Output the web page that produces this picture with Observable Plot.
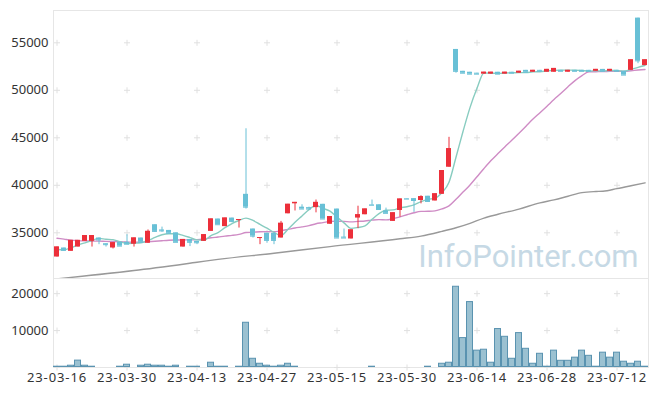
<!DOCTYPE html>
<html>
<head>
<meta charset="utf-8">
<script src="https://cdn.jsdelivr.net/npm/d3@7"></script>
<script src="https://cdn.jsdelivr.net/npm/@observablehq/plot@0.6"></script>
<style>
  body { margin: 0; background: #fff; }
  #wrap { position: relative; width: 657px; height: 396px; }
  #wrap svg { position: absolute; left: 0; }
  #vol [aria-label="x-axis tick label"] { letter-spacing: 0.9px; }
</style>
</head>
<body>
<div id="wrap"></div>
<script>
const dates = ["23-03-16","23-03-17","23-03-20","23-03-21","23-03-22","23-03-23","23-03-24","23-03-27","23-03-28","23-03-29","23-03-30","23-03-31",
"23-04-03","23-04-04","23-04-05","23-04-06","23-04-07","23-04-10","23-04-11","23-04-12","23-04-13","23-04-14","23-04-17","23-04-18","23-04-19","23-04-20","23-04-21","23-04-24","23-04-25","23-04-26","23-04-27","23-04-28",
"23-05-02","23-05-03","23-05-04","23-05-08","23-05-09","23-05-10","23-05-11","23-05-12","23-05-15","23-05-16","23-05-17","23-05-18","23-05-19","23-05-22","23-05-23","23-05-24","23-05-25","23-05-26","23-05-30","23-05-31",
"23-06-01","23-06-02","23-06-05","23-06-07","23-06-08","23-06-09","23-06-12","23-06-13","23-06-14","23-06-15","23-06-16","23-06-19","23-06-20","23-06-21","23-06-22","23-06-23","23-06-26","23-06-27","23-06-28","23-06-29","23-06-30",
"23-07-03","23-07-04","23-07-05","23-07-06","23-07-07","23-07-10","23-07-11","23-07-12","23-07-13","23-07-14","23-07-17","23-07-18"];

const open = [32450,33400,33050,33500,34100,34100,34450,33850,33400,34000,34000,33800,
34450,33900,35850,35300,35250,35000,33500,34300,34100,34100,35150,36450,35650,36550,36300,39050,35400,34450,34950,34950,
34450,37000,38050,37700,37650,37650,38000,35900,37500,34550,34350,36550,36900,37950,37950,37300,36200,37350,38600,38600,
38400,38850,38350,39050,41900,54300,52000,51900,51800,51700,51700,51900,51700,51900,51800,52100,51900,52100,51900,51900,52100,
51900,52100,52100,52100,52000,52200,52000,52100,52000,52100,57600,52600];
const high = [33500,33400,34200,34200,34700,34700,34450,33850,33950,34000,34800,34450,
34450,35300,35850,35600,35250,35000,34300,34300,34100,34800,36450,36450,36550,36550,36400,45950,35400,34500,34950,34950,
36200,38000,38200,37950,37700,38450,38000,36700,37500,35400,35300,37800,37500,38450,37950,37600,37100,38550,38600,38600,
38900,38850,39100,41550,45050,54300,52000,51900,51800,51900,51900,51900,51900,51900,52000,52100,52100,52100,52200,52300,52100,
52100,52100,52100,52100,52200,52200,52200,52100,52000,53200,57600,53200];
const low = [32450,33100,33050,33500,34100,33500,33750,33500,33300,33600,33800,33500,
34000,33900,35050,35050,34950,34000,33500,33550,33750,34100,35150,35850,35650,36050,35500,37500,34450,33750,33900,33750,
34450,37000,37300,37500,37500,37100,36450,35900,34450,34450,34350,35450,36900,37900,37450,37050,36200,36650,38550,37150,
38050,38200,38350,39050,41900,51800,51800,51700,51700,51700,51700,51700,51700,51800,51800,51900,51900,52000,51900,51900,52000,
51900,52000,52000,52000,52000,52000,52000,52000,51600,52100,52800,52600];
const close = [33500,33150,34200,34200,34700,34700,34250,33750,33950,33600,33800,34450,
34000,35150,35150,35200,34950,34000,34300,34000,33950,34800,36450,35850,36550,36200,36400,37700,34650,34500,34200,34200,
36000,38000,38200,37500,37500,38200,36450,36700,34450,34450,35300,36900,37500,37900,37450,37050,37100,38550,38550,38400,
38800,38300,39100,41550,43850,52000,51800,51700,51700,51900,51900,51700,51900,51800,52000,51900,52100,52000,52200,52300,52000,
52100,52000,52000,52000,52200,52000,52200,52000,51600,53200,53100,53200];
const volume = [350,350,620,2000,620,350,0,0,0,350,890,0,
620,890,620,620,350,620,0,350,350,0,1430,350,350,0,350,12250,2500,1150,620,350,
620,1150,350,0,0,0,0,0,0,0,0,0,0,350,0,0,0,0,0,0,
0,350,0,1150,1430,22000,8100,17850,4700,4950,1430,10550,8450,2500,9450,5200,1150,3850,350,4700,1950,
1950,2800,4700,3300,350,4150,2800,4150,1700,1150,1700,350];

const ma5 = [33240,33210,33420,33730,33944,34190,34413,34329,34280,34055,33873,33908,33957,34196,34511,34792,34897,34897,34729,34497,
34252,34217,34708,35024,35536,35978,36297,36543,36297,35882,35482,35044,34707,35373,36111,36778,37445,37880,37571,37276,
36659,36041,35466,35561,35722,36417,37021,37372,37410,37621,37747,37936,38287,38526,38631,39234,40322,42958,45659,48179,
50208,51820,51800,51780,51820,51840,51860,51860,51940,51960,52040,52100,52120,52120,52120,52080,52020,52060,52040,52080,
52080,52000,52200,52420,52620];
const ma20 = [34430,34330,34230,34180,34150,34130,34120,34100,34080,34060,34030,34010,34020,34060,34110,34170,34220,34240,34250,34252,
34277,34359,34473,34557,34650,34724,34830,35026,35061,35107,35126,35114,35214,35356,35507,35622,35751,35959,36066,36201,
36224,36207,36149,36201,36248,36334,36388,36356,36479,36683,36900,37111,37251,37267,37313,37514,37830,38521,39289,40038,
40902,41775,42604,43344,44063,44757,45485,46226,46976,47648,48331,49026,49685,50375,51020,51542,51950,51960,51970,51995,
52010,51995,52060,52130,52195];
const ma60Dates = ["23-03-16","23-03-31","23-04-13","23-04-18","23-04-28","23-05-12","23-05-26","23-06-01","23-06-07","23-06-09","23-06-13","23-06-15","23-06-19","23-06-22","23-06-27","23-06-29","23-07-03","23-07-05","23-07-07","23-07-10","23-07-12","23-07-14","23-07-18"];
const ma60 = [30150,31030,31900,32200,32850,33550,34370,34650,35150,35530,36000,36550,36950,37500,38150,38470,38850,39230,39350,39380,39650,39950,40260];

const priceTicks = [35000,40000,45000,50000,55000];
const volTicks = [10000,20000];
const dateTicks = ["23-03-16","23-03-30","23-04-13","23-04-27","23-05-15","23-05-30","23-06-14","23-06-28","23-07-12"];
const watermark = "InfoPointer.com";

const RED = "#ec2f3a", BLUE = "#68c0d6";

const candles = dates.map((d, i) => ({date: d, open: open[i], high: high[i], low: low[i], close: close[i], vol: volume[i], ma5: ma5[i], ma20: ma20[i]}));
const up = candles.filter(d => d.close >= d.open);
const down = candles.filter(d => d.close < d.open);
const ma60Data = ma60Dates.map((d, i) => ({date: d, v: ma60[i]}));
const gridTop = d3.cross(dateTicks, priceTicks);
const gridVol = d3.cross(dateTicks, [0, ...volTicks]);

const style = {fontFamily: "'Noto Sans', sans-serif", fontSize: "13px", color: "#333", background: "none", overflow: "visible"};
const xScale = {type: "band", domain: dates, padding: 0, label: null};
const fmt = d => String(d);

const topChart = Plot.plot({
  width: 657, height: 280, marginTop: 10, marginBottom: 2, marginLeft: 53, marginRight: 9,
  style,
  x: {...xScale, axis: null},
  y: {domain: [30190, 58400], axis: null, label: null},
  marks: [
    Plot.frame({stroke: "#e6e6e6"}),
    Plot.dot(gridTop, {x: d => d[0], y: d => d[1], symbol: "plus", r: 2.1, stroke: "#e0e0e0", strokeWidth: 1}),
    Plot.axisY({ticks: priceTicks, tickSize: 0, tickPadding: 5, fontSize: 13, tickFormat: fmt, label: null}),
    Plot.text([watermark], {text: d => d, frameAnchor: "bottom-right", textAnchor: "end", lineAnchor: "bottom", dx: -10, dy: -11.3, fontSize: 31, fontFamily: "Roboto", fill: "#c6d9e5"}),
    Plot.line(ma60Data, {x: "date", y: "v", stroke: "#999", strokeWidth: 1.4, curve: "monotone-x", clip: true}),
    Plot.line(candles, {x: "date", y: "ma20", stroke: "#cf8cc5", strokeWidth: 1.4, curve: "monotone-x"}),
    Plot.line(candles, {x: "date", y: "ma5", stroke: "#88ccc0", strokeWidth: 1.4, curve: "monotone-x"}),
    Plot.ruleX(up, {x: "date", y1: "low", y2: "high", stroke: RED, strokeWidth: 1}),
    Plot.ruleX(down, {x: "date", y1: "low", y2: "high", stroke: BLUE, strokeWidth: 1}),
    Plot.barY(up, {x: "date", y1: "open", y2: "close", fill: RED, insetLeft: 1, insetRight: 1}),
    Plot.barY(down, {x: "date", y1: "open", y2: "close", fill: BLUE, insetLeft: 1, insetRight: 1}),
    Plot.tickY(up, {x: "date", y: "close", stroke: RED, insetLeft: 1, insetRight: 1}),
    Plot.tickY(down, {x: "date", y: "close", stroke: BLUE, insetLeft: 1, insetRight: 1})
  ]
});

const volChart = Plot.plot({
  width: 657, height: 120, marginTop: 2, marginBottom: 29, marginLeft: 53, marginRight: 9,
  style,
  x: {...xScale},
  y: {domain: [0, 24100], label: null},
  marks: [
    Plot.frame({stroke: "#e6e6e6"}),
    Plot.dot(gridVol, {x: d => d[0], y: d => d[1], symbol: "plus", r: 2.1, stroke: "#e0e0e0", strokeWidth: 1}),
    Plot.barY(candles, {filter: d => d.vol > 0, x: "date", y: "vol", fill: "#9bc1d1", stroke: "#5a93b0", strokeWidth: 1, inset: 0.5}),
    Plot.axisY({ticks: volTicks, tickSize: 0, tickPadding: 5, fontSize: 13, tickFormat: fmt, label: null}),
    Plot.axisX({ticks: dateTicks, tickSize: 0, tickPadding: 5.5, fontSize: 13, label: null})
  ]
});
volChart.id = "vol";

const wrap = document.getElementById("wrap");
topChart.style.top = "0px";
volChart.style.top = "276px";
wrap.append(topChart, volChart);
</script>
</body>
</html>
